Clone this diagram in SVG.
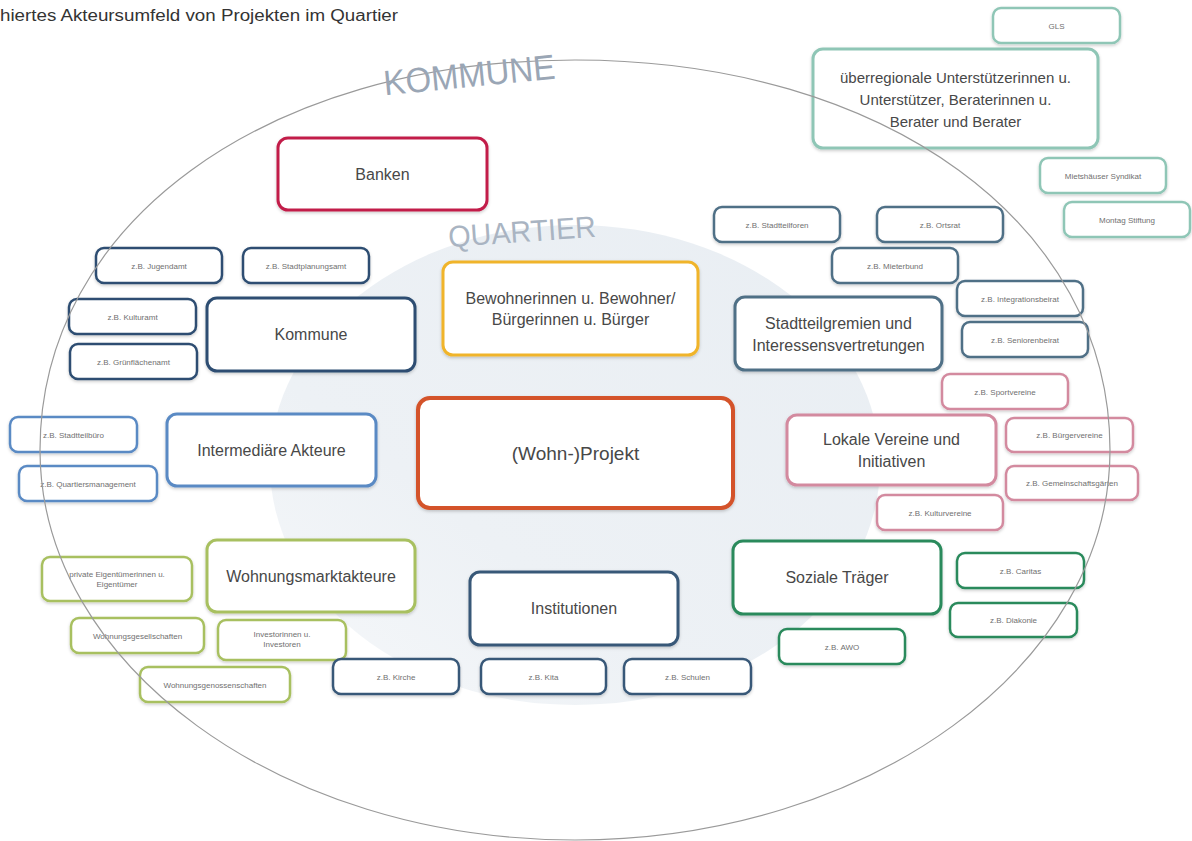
<svg xmlns="http://www.w3.org/2000/svg" width="1192" height="841" viewBox="0 0 1192 841">
<defs>
<filter id="sh" x="-10%" y="-20%" width="120%" height="150%">
<feDropShadow dx="0" dy="1.5" stdDeviation="1.5" flood-color="#000" flood-opacity="0.2"/>
</filter>
<linearGradient id="qg" x1="0" y1="1" x2="1" y2="0">
<stop offset="0" stop-color="#f6f8fa"/>
<stop offset="0.35" stop-color="#edf1f5"/>
<stop offset="1" stop-color="#e9eef3"/>
</linearGradient>
<style>
text{font-family:"Liberation Sans",Arial,sans-serif;text-anchor:middle;fill:#484848}
.big{font-size:16px}
.sm{font-size:8px;fill:#707070}
rect{fill:#fff;filter:url(#sh)}
.b{stroke-width:3}
.s{stroke-width:2.5}
.navy{stroke:#2d4e72}
.slate{stroke:#4f6f86}
.blue{stroke:#5a8ac4}
.pink{stroke:#d38a9f}
.olive{stroke:#a8c060}
.inst{stroke:#385878}
.green{stroke:#2a8a5c}
.teal{stroke:#8fc6b6}
</style>
</defs>
<rect width="1192" height="841" fill="#fff" style="filter:none"/>
<text x="0" y="21" style="text-anchor:start;font-size:16px;fill:#333" textLength="398" lengthAdjust="spacingAndGlyphs">hiertes Akteursumfeld von Projekten im Quartier</text>

<g id="quartier-area">
<ellipse cx="575" cy="465" rx="305" ry="240" fill="url(#qg)"/>
<text x="522" y="242" transform="rotate(-4 522 232)" style="font-size:30px;fill:#a9b4c2" textLength="148" lengthAdjust="spacingAndGlyphs">QUARTIER</text>
</g>

<g id="connectors"></g>

<g id="banken"><rect class="b" x="278" y="138" width="209" height="72" rx="10" stroke="#c21f4a"/><text class="big" x="382.5" y="180">Banken</text></g>
<g id="bewohner"><rect class="b" x="443" y="262" width="255" height="93" rx="10" stroke="#f0b429"/><text class="big" x="570.5" y="304">Bewohnerinnen u. Bewohner/</text><text class="big" x="570.5" y="325">Bürgerinnen u. Bürger</text></g>
<g id="kommune"><rect class="b navy" x="207" y="298" width="208" height="73" rx="10"/><text class="big" x="311" y="340">Kommune</text></g>
<g id="stadtteilgremien"><rect class="b slate" x="735" y="297" width="207" height="73" rx="10"/><text class="big" x="838.5" y="329">Stadtteilgremien und</text><text class="big" x="838.5" y="351">Interessensvertretungen</text></g>
<g id="intermediaere"><rect class="b blue" x="167" y="414" width="209" height="72" rx="10"/><text class="big" x="271.5" y="456">Intermediäre Akteure</text></g>
<g id="projekt"><rect x="418" y="398" width="315" height="110" rx="12" stroke="#d4532a" stroke-width="4"/><text x="575.5" y="460" style="font-size:19px">(Wohn-)Projekt</text></g>
<g id="lokale-vereine"><rect class="b pink" x="787" y="415" width="209" height="70" rx="10"/><text class="big" x="891.5" y="445">Lokale Vereine und</text><text class="big" x="891.5" y="467">Initiativen</text></g>
<g id="wohnungsmarkt"><rect class="b olive" x="207" y="540" width="208" height="72" rx="10"/><text class="big" x="311" y="582">Wohnungsmarktakteure</text></g>
<g id="institutionen"><rect class="b inst" x="470" y="572" width="208" height="73" rx="10"/><text class="big" x="574" y="614">Institutionen</text></g>
<g id="soziale-traeger"><rect class="b green" x="733" y="541" width="208" height="73" rx="10"/><text class="big" x="837" y="583">Soziale Träger</text></g>
<g id="ueberregional"><rect class="b teal" x="813" y="49" width="285" height="99" rx="10"/><text x="955.5" y="83" style="font-size:15px">überregionale Unterstützerinnen u.</text><text x="955.5" y="105" style="font-size:15px">Unterstützer, Beraterinnen u.</text><text x="955.5" y="127" style="font-size:15px">Berater und Berater</text></g>

<g id="gls"><rect class="s teal" x="993" y="8" width="127" height="35" rx="8"/><text class="sm" x="1056.5" y="29">GLS</text></g>
<g id="mietshaeuser"><rect class="s teal" x="1040" y="158" width="126" height="35" rx="8"/><text class="sm" x="1103" y="179">Mietshäuser Syndikat</text></g>
<g id="montag"><rect class="s teal" x="1064" y="202" width="126" height="35" rx="8"/><text class="sm" x="1127" y="223">Montag Stiftung</text></g>

<g id="jugendamt"><rect class="s navy" x="96" y="248" width="126" height="35" rx="8"/><text class="sm" x="159" y="269">z.B. Jugendamt</text></g>
<g id="stadtplanungsamt"><rect class="s navy" x="243" y="248" width="126" height="35" rx="8"/><text class="sm" x="306" y="269">z.B. Stadtplanungsamt</text></g>
<g id="kulturamt"><rect class="s navy" x="69" y="299" width="127" height="35" rx="8"/><text class="sm" x="132.5" y="320">z.B. Kulturamt</text></g>
<g id="gruenflaechenamt"><rect class="s navy" x="70" y="344" width="127" height="35" rx="8"/><text class="sm" x="133.5" y="365">z.B. Grünflächenamt</text></g>

<g id="stadtteilforen"><rect class="s slate" x="714" y="207" width="126" height="35" rx="8"/><text class="sm" x="777" y="228">z.B. Stadtteilforen</text></g>
<g id="ortsrat"><rect class="s slate" x="877" y="207" width="126" height="35" rx="8"/><text class="sm" x="940" y="228">z.B. Ortsrat</text></g>
<g id="mieterbund"><rect class="s slate" x="832" y="248" width="126" height="35" rx="8"/><text class="sm" x="895" y="269">z.B. Mieterbund</text></g>
<g id="integrationsbeirat"><rect class="s slate" x="957" y="281" width="126" height="35" rx="8"/><text class="sm" x="1020" y="302">z.B. Integrationsbeirat</text></g>
<g id="seniorenbeirat"><rect class="s slate" x="962" y="322" width="126" height="35" rx="8"/><text class="sm" x="1025" y="343">z.B. Seniorenbeirat</text></g>

<g id="stadtteilbuero"><rect class="s blue" x="10" y="417" width="127" height="35" rx="8"/><text class="sm" x="73.5" y="438">z.B. Stadtteilbüro</text></g>
<g id="quartiersmanagement"><rect class="s blue" x="19" y="466" width="138" height="35" rx="8"/><text class="sm" x="88" y="487">z.B. Quartiersmanagement</text></g>

<g id="sportvereine"><rect class="s pink" x="942" y="374" width="126" height="35" rx="8"/><text class="sm" x="1005" y="395">z.B. Sportvereine</text></g>
<g id="buergervereine"><rect class="s pink" x="1006" y="418" width="127" height="34" rx="8"/><text class="sm" x="1069.5" y="438">z.B. Bürgervereine</text></g>
<g id="gemeinschaftsgaerten"><rect class="s pink" x="1006" y="466" width="132" height="34" rx="8"/><text class="sm" x="1072" y="486">z.B. Gemeinschaftsgärten</text></g>
<g id="kulturvereine"><rect class="s pink" x="877" y="495" width="126" height="35" rx="8"/><text class="sm" x="940" y="516">z.B. Kulturvereine</text></g>

<g id="private-eigentuemer"><rect class="s olive" x="42" y="557" width="150" height="44" rx="8"/><text class="sm" x="117" y="577">private Eigentümerinnen u.</text><text class="sm" x="117" y="587">Eigentümer</text></g>
<g id="wohnungsgesellschaften"><rect class="s olive" x="71" y="618" width="133" height="35" rx="8"/><text class="sm" x="137.5" y="639">Wohnungsgesellschaften</text></g>
<g id="investoren"><rect class="s olive" x="218" y="620" width="128" height="40" rx="8"/><text class="sm" x="282" y="637">Investorinnen u.</text><text class="sm" x="282" y="647">Investoren</text></g>
<g id="wohnungsgenossenschaften"><rect class="s olive" x="140" y="667" width="150" height="35" rx="8"/><text class="sm" x="215" y="688">Wohnungsgenossenschaften</text></g>

<g id="kirche"><rect class="s inst" x="333" y="659" width="126" height="35" rx="8"/><text class="sm" x="396" y="680">z.B. Kirche</text></g>
<g id="kita"><rect class="s inst" x="481" y="659" width="125" height="35" rx="8"/><text class="sm" x="543.5" y="680">z.B. Kita</text></g>
<g id="schulen"><rect class="s inst" x="624" y="659" width="127" height="35" rx="8"/><text class="sm" x="687.5" y="680">z.B. Schulen</text></g>

<g id="caritas"><rect class="s green" x="957" y="553" width="127" height="35" rx="8"/><text class="sm" x="1020.5" y="574">z.B. Caritas</text></g>
<g id="diakonie"><rect class="s green" x="950" y="603" width="127" height="34" rx="8"/><text class="sm" x="1013.5" y="623">z.B. Diakonie</text></g>
<g id="awo"><rect class="s green" x="779" y="629" width="126" height="35" rx="8"/><text class="sm" x="842" y="650">z.B. AWO</text></g>

<g id="kommune-area">
<path d="M575,60 C885,60 1110,224 1110,450 C1110,665 870,840 575,840 C280,840 40,665 40,450 C40,224 265,60 575,60 Z" fill="none" stroke="#9a9a9a" stroke-width="1.2"/>
<text x="469" y="87" transform="rotate(-5.6 469 72)" style="font-size:35px;fill:#9aa6b5" textLength="172" lengthAdjust="spacingAndGlyphs">KOMMUNE</text>
</g>
</svg>
